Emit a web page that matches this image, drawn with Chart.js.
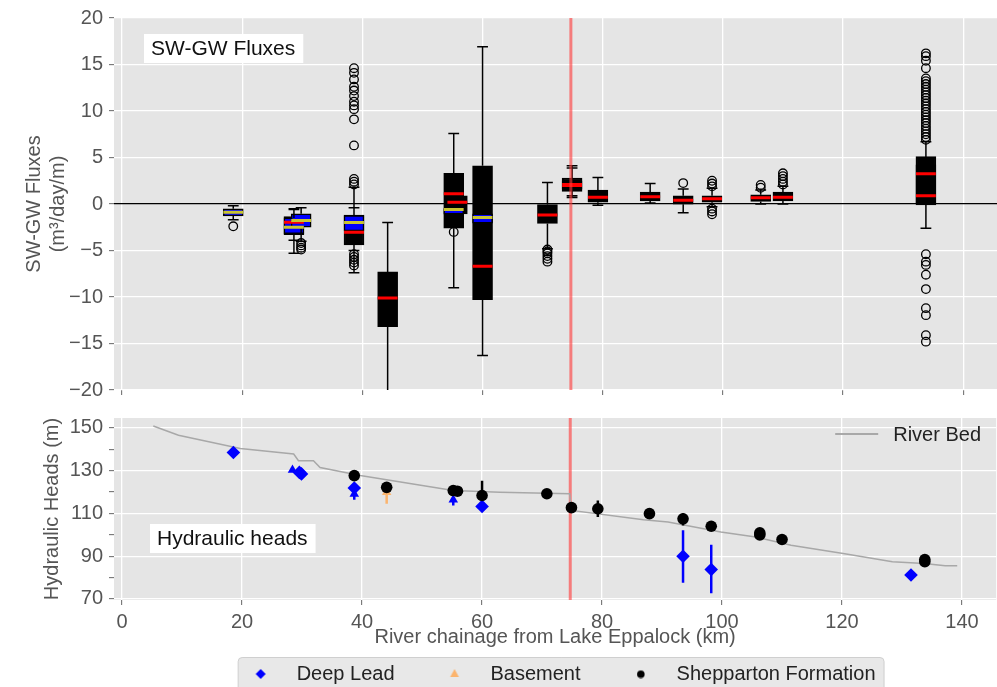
<!DOCTYPE html>
<html>
<head>
<meta charset="utf-8">
<script src="https://cdn.jsdelivr.net/npm/chart.js@4.4.1/dist/chart.umd.min.js"></script>
<style>
  html, body { margin: 0; padding: 0; background: #fff; overflow: hidden; }
  #wrap { position: relative; width: 997px; height: 687px; overflow: hidden; }
  canvas { position: absolute; left: 0; }
  #fluxes { top: 0; }
  #heads { top: 400px; }
</style>
</head>
<body>
<div id="wrap">
  <canvas id="fluxes" width="1003" height="408"></canvas>
  <canvas id="heads" width="1003" height="294"></canvas>
</div>
<script>
const FONT = "'Liberation Sans', Arial, sans-serif";
const TICK_TXT = '#555555';
const PANEL = '#e5e5e5';
const BLUE = '#0000ff';
const ORANGE = '#fbb46e';
const YELLOW = '#c8c430';

// axes
const xMin = -1.35, xMax = 145.7;
const kmTicks = [0, 20, 40, 60, 80, 100, 120, 140];
const fluxTicks = [-20, -15, -10, -5, 0, 5, 10, 15, 20];
const headTicks = [70, 80, 90, 100, 110, 120, 130, 140, 150];
const headLabelled = [70, 90, 110, 130, 150];
const markerKm = 74.7;   // red vertical line

// SW-GW flux boxes, black (q1, q3, median, whiskers)
const boxKm  = [28.6, 38.6, 44.2, 55.2, 55.8, 60.0, 70.8, 74.9, 74.9, 79.2, 87.9, 93.4, 98.2, 106.3, 110.0, 133.8, 133.8];
const boxQ1  = [-3.3, -4.4, -13.2, -2.6, -1.06, -10.3, -2.1, 1.35, 1.6, 0.2, 0.34, -0.02, 0.2, 0.27, 0.34, -0.1, 0.1];
const boxQ3  = [-1.35, -1.2, -7.3, 3.3, 0.88, 4.1, -0.05, 2.8, 2.5, 1.5, 1.27, 0.88, 0.88, 0.99, 1.27, 5.1, 4.2];
const boxMed = [-1.96, -3.04, -10.1, 1.1, 0.2, -6.7, -1.17, 2.0, 2.1, 0.73, 0.78, 0.41, 0.56, 0.67, 0.73, 3.25, 0.88];
const boxLo  = [-5.3, -7.4, -21, -9.0, -1.5, -16.3, -4.8, 0.7, 0.9, -0.13, 0.1, -0.95, -0.3, 0.0, 0.0, -2.6, -2.6];
const boxHi  = [-0.6, 1.8, -2.0, 7.57, 1.3, 16.9, 2.3, 4.1, 3.86, 2.86, 2.2, 1.6, 1.7, 1.5, 1.9, 6.7, 6.7];

// SW-GW flux boxes, blue
const dlKm  = [18.5, 28.6, 29.8, 38.6, 55.2, 60.0];
const dlQ1  = [-1.29, -3.2, -2.5, -2.9, -1.1, -2.07];
const dlQ3  = [-0.52, -1.5, -1.06, -1.25, -0.5, -1.06];
const dlMed = [-0.88, -2.5, -1.78, -2.0, -0.6, -1.46];
const dlLo  = [-1.7, -3.9, -4.0, -5.0, -1.5, -2.6];
const dlHi  = [-0.2, -0.5, -0.4, -0.4, 0.0, -0.6];

// outliers
const outlierKm = [18.5, 29.8, 38.6, 55.2, 70.8, 93.4, 98.2, 106.3, 110.0, 133.8];
const outlierVal = [
  [-2.4],
  [-4.2, -4.45, -4.7, -4.9],
  [2.1, 2.4, 2.7, 6.3, 9.1, 10.2, 10.6, 11.0, 11.6, 12.2, 12.6, 13.4, 14.1, 14.6, -5.4, -5.7, -6.0, -6.3, -6.6],
  [-3.0],
  [-4.9, -5.1, -5.3, -5.6, -5.9, -6.2],
  [2.25],
  [1.9, 2.2, 2.5, -0.5, -0.8, -1.1],
  [1.75, 2.05],
  [2.1, 2.4, 2.7, 3.0, 3.3],
  [6.9, 7.2, 7.5, 7.8, 8.1, 8.4, 8.7, 9.0, 9.3, 9.6, 9.9, 10.2, 10.5, 10.8, 11.1, 11.4, 11.7, 12.0, 12.3, 12.6, 12.9, 13.2, 13.5,
   14.6, 15.4, 15.9, 16.2, -5.4, -6.2, -6.55, -7.6, -9.15, -11.2, -11.95, -14.1, -14.8]
];

// river bed
const bedKm    = [5.2, 9.4, 19.7, 28.6, 29.4, 31.9, 33.0, 39.7, 55.2, 63.0, 74.6, 74.9, 86.9, 91.0, 99.8, 105.6, 111.5, 120.2, 128.4, 133.7, 137.2, 139.2];
const bedLevel = [150.9, 146.6, 140.4, 137.8, 134.7, 134.7, 131.5, 127.7, 120.7, 119.9, 119.2, 111.4, 107.1, 106.0, 101.3, 99.0, 95.1, 91.3, 87.4, 86.6, 85.5, 85.5];

// hydraulic heads
const deepKm   = [18.55, 29.55, 29.9, 38.7, 60.0, 93.5, 98.2, 131.5];
const deepHead = [138.5, 129.2, 128.5, 121.9, 113.3, 90.0, 83.8, 81.2];
const deepTriKm   = [28.4, 38.7, 55.2];
const deepTriHead = [130.3, 119.1, 116.4];
const deepErrKm = [38.7, 55.2, 93.5, 98.2];
const deepErrLo = [116.4, 113.7, 77.6, 72.6];
const deepErrHi = [121.9, 116.4, 102.1, 95.4];

const baseKm = [44.1];
const baseHead = [119.9];
const baseErrLo = [114.5];
const baseErrHi = [124.6];

const shepKm   = [38.7, 44.1, 55.2, 55.9, 60.0, 70.8, 74.9, 79.3, 87.9, 93.5, 98.2, 106.3, 106.3, 110.0, 133.8, 133.8];
const shepHead = [127.7, 122.2, 120.7, 120.4, 118.4, 119.2, 112.7, 112.2, 109.9, 107.5, 104.0, 100.9, 99.9, 97.8, 88.4, 87.4];
const shepErrKm = [60.0, 79.3, 87.9, 93.5];
const shepErrLo = [117.5, 108.3, 108.0, 104.4];
const shepErrHi = [125.3, 116.0, 112.2, 110.1];

const legendOrder = ['Deep Lead', 'Basement', 'Shepparton Formation'];

// ---------- helpers ----------
function vSegs(km, lo, hi) {
  const pts = [];
  km.forEach((x, i) => pts.push({x, y: lo[i]}, {x, y: hi[i]}, {x, y: null}));
  return pts;
}
function hSegs(km, val, half) {
  const pts = [];
  km.forEach((x, i) => pts.push({x: x - half, y: val[i]}, {x: x + half, y: val[i]}, {x, y: null}));
  return pts;
}
function pts(km, vals) {
  return km.map((x, i) => ({x, y: vals[i]}));
}
function segLine(data, color, width, order) {
  return { type: 'line', data, borderColor: color, borderWidth: width, pointRadius: 0,
           spanGaps: false, borderCapStyle: 'butt', order };
}
function marker(style, color, r) {
  const c = document.createElement('canvas');
  c.width = c.height = 2 * r + 2;
  const g = c.getContext('2d');
  const m = r + 1;
  g.fillStyle = color;
  g.beginPath();
  if (style === 'diamond') {
    g.moveTo(m, m - r); g.lineTo(m + r, m); g.lineTo(m, m + r); g.lineTo(m - r, m);
  } else if (style === 'triangle') {
    g.moveTo(m, m - r); g.lineTo(m + r * 0.87, m + r * 0.6); g.lineTo(m - r * 0.87, m + r * 0.6);
  } else {
    g.arc(m, m, r, 0, Math.PI * 2);
  }
  g.closePath();
  g.fill();
  return c;
}

const outlierPts = [];
outlierKm.forEach((x, i) => outlierVal[i].forEach(y => outlierPts.push({x, y})));

// ---------- plugins ----------
const panelBg = {
  id: 'panelBg',
  beforeDraw(chart) {
    const {ctx, chartArea: a} = chart;
    ctx.save();
    ctx.fillStyle = PANEL;
    ctx.fillRect(a.left, a.top, a.width, a.height);
    const boxes = chart.legend && chart.legend.options.display ? chart.legend.legendHitBoxes : null;
    if (boxes && boxes.length) {
      const last = boxes[boxes.length - 1];
      const l = boxes[0].left + 3, r = last.left + last.width + 8, t = boxes[0].top - 7;
      ctx.fillStyle = '#e8e8e8';
      ctx.strokeStyle = '#cfcfcf';
      ctx.lineWidth = 1;
      ctx.beginPath();
      ctx.roundRect(l + 0.5, t + 0.5, r - l, chart.height - t + 5, 4);
      ctx.fill();
      ctx.stroke();
    }
    ctx.restore();
  }
};

const panelText = {
  id: 'panelText',
  afterDatasetsDraw(chart, args, opts) {
    const {ctx, chartArea: a} = chart;
    ctx.save();
    ctx.font = `21px ${FONT}`;
    if (opts.text) {
      const w = ctx.measureText(opts.text).width;
      const x = a.left + opts.dx, y = a.top + opts.dy;
      ctx.fillStyle = '#fff';
      ctx.fillRect(x, y, w + 15, 29);
      ctx.fillStyle = '#111';
      ctx.textBaseline = 'middle';
      ctx.fillText(opts.text, x + 7, y + 15);
    }
    if (opts.key) {
      const y = a.top + 16;
      ctx.strokeStyle = '#a8a8a8';
      ctx.lineWidth = 2;
      ctx.beginPath();
      ctx.moveTo(a.right - 161, y);
      ctx.lineTo(a.right - 118, y);
      ctx.stroke();
      ctx.font = `20px ${FONT}`;
      ctx.fillStyle = '#222';
      ctx.textBaseline = 'middle';
      ctx.fillText(opts.key, a.right - 103, y + 1);
    }
    ctx.restore();
  }
};

Chart.defaults.font.family = FONT;
Chart.defaults.animation = false;

const tickFont = { family: FONT, size: 20 };
const titleFont = { family: FONT, size: 20 };

function kmAxis(showLabels) {
  return {
    type: 'linear', min: xMin, max: xMax, offset: false,
    afterBuildTicks: s => { s.ticks = kmTicks.map(value => ({value})); },
    ticks: { display: showLabels, autoSkip: false, maxRotation: 0, color: TICK_TXT, font: tickFont, padding: 5 },
    grid: { color: '#ffffff', lineWidth: 1.3, offset: false, tickColor: '#666', tickWidth: 1, tickLength: 5 },
    border: { display: false }
  };
}

// ---------- top: SW-GW fluxes ----------
const fluxX = kmAxis(false);
fluxX.afterFit = s => { s.height = 12; };

new Chart(document.getElementById('fluxes'), {
  type: 'bar',
  data: {
    datasets: [
      segLine([{x: markerKm, y: fluxTicks[0]}, {x: markerKm, y: fluxTicks[fluxTicks.length - 1]}],
              'rgba(255, 60, 60, 0.62)', 3, 0),
      { type: 'line', data: outlierPts, showLine: false, pointStyle: 'circle', pointRadius: 4.3,
        pointBackgroundColor: 'rgba(0,0,0,0)', pointBorderColor: '#000', pointBorderWidth: 1.3, order: 1 },
      segLine(hSegs(dlKm, dlMed, 1.65), YELLOW, 3, 2),
      segLine(hSegs(boxKm, boxMed, 1.65), '#ff0000', 3, 3),
      segLine(hSegs([...boxKm, ...boxKm, ...dlKm, ...dlKm], [...boxHi, ...boxLo, ...dlHi, ...dlLo], 0.9), '#000', 1.5, 4),
      segLine(vSegs([...boxKm, ...boxKm, ...dlKm, ...dlKm], [...boxQ3, ...boxQ1, ...dlQ3, ...dlQ1],
                    [...boxHi, ...boxLo, ...dlHi, ...dlLo]), '#000', 1.5, 5),
      { type: 'bar', data: dlKm.map((x, i) => ({x, y: [dlQ1[i], dlQ3[i]]})), stack: 'box',
        backgroundColor: BLUE, borderColor: '#000', borderWidth: 1.5, borderSkipped: false,
        barThickness: 20, order: 6 },
      { type: 'bar', data: boxKm.map((x, i) => ({x, y: [boxQ1[i], boxQ3[i]]})), stack: 'box',
        backgroundColor: '#000', borderColor: '#000', borderWidth: 1.5, borderSkipped: false,
        barThickness: 20, order: 7 }
    ]
  },
  options: {
    responsive: false,
    devicePixelRatio: 1,
    layout: { padding: { top: 17, left: 0, right: 0, bottom: 0 } },
    plugins: {
      legend: { display: false },
      tooltip: { enabled: false },
      panelText: { text: 'SW-GW Fluxes', dx: 30, dy: 16 }
    },
    scales: {
      x: fluxX,
      y: {
        min: fluxTicks[0], max: fluxTicks[fluxTicks.length - 1], stacked: false,
        afterBuildTicks: s => { s.ticks = fluxTicks.map(value => ({value})); },
        ticks: { autoSkip: false, color: TICK_TXT, font: tickFont, padding: 6,
                 callback: v => (v < 0 ? '\u2212' + Math.abs(v) : String(v)) },
        grid: { color: c => (c.tick && c.tick.value === 0 ? '#000' : '#ffffff'), lineWidth: 1.3,
                tickColor: '#666', tickWidth: 1, tickLength: 5 },
        border: { display: false },
        title: { display: true, text: ['SW-GW Fluxes', '(m\u00b3/day/m)'], color: TICK_TXT, font: titleFont,
                 padding: { top: 22, bottom: 0 } },
        afterFit: s => { s.width = 114; }
      }
    }
  },
  plugins: [panelBg, panelText]
});

// ---------- bottom: hydraulic heads ----------
const legendMarks = {
  'Deep Lead': marker('diamond', BLUE, 5),
  'Basement': marker('triangle', ORANGE, 5),
  'Shepparton Formation': marker('circle', '#000', 3.8)
};

const headX = kmAxis(true);
headX.title = { display: true, text: 'River chainage from Lake Eppalock (km)', color: TICK_TXT, font: titleFont,
                padding: { top: 0, bottom: -19 } };
headX.afterFit = s => { s.height = 30; };

new Chart(document.getElementById('heads'), {
  type: 'scatter',
  data: {
    datasets: [
      { label: 'Shepparton Formation', data: pts(shepKm, shepHead), pointStyle: 'circle', pointRadius: 5.8,
        backgroundColor: '#000', borderWidth: 0, order: 1 },
      { label: 'Deep Lead', data: pts(deepKm, deepHead), pointStyle: 'rectRot', pointRadius: 6.8,
        backgroundColor: BLUE, borderWidth: 0, order: 2 },
      { label: 'Basement', data: pts(baseKm, baseHead), pointStyle: 'triangle', pointRadius: 5.5,
        backgroundColor: ORANGE, borderWidth: 0, order: 4 },
      { label: 'Deep Lead (tri)', data: pts(deepTriKm, deepTriHead), pointStyle: 'triangle', pointRadius: 5.5,
        backgroundColor: BLUE, borderWidth: 0, order: 3 },
      Object.assign(segLine(vSegs(shepErrKm, shepErrLo, shepErrHi), '#000', 2.5, 5), { label: 'shep err' }),
      Object.assign(segLine(vSegs(deepErrKm, deepErrLo, deepErrHi), BLUE, 2.5, 6), { label: 'deep err' }),
      Object.assign(segLine(vSegs(baseKm, baseErrLo, baseErrHi), ORANGE, 2.5, 7), { label: 'base err' }),
      Object.assign(segLine(pts(bedKm, bedLevel), '#a8a8a8', 1.5, 8), { label: 'River Bed' }),
      Object.assign(segLine([{x: markerKm, y: 60}, {x: markerKm, y: 160}], 'rgba(255, 60, 60, 0.62)', 3, 9),
                    { label: 'marker' })
    ]
  },
  options: {
    responsive: false,
    devicePixelRatio: 1,
    layout: { padding: { top: 17, left: 0, right: 0, bottom: 0 } },
    plugins: {
      tooltip: { enabled: false },
      panelText: { text: 'Hydraulic heads', dx: 36, dy: 106, key: 'River Bed' },
      legend: {
        position: 'bottom',
        fullSize: false,
        labels: {
          usePointStyle: true,
          pointStyleWidth: 52,
          boxHeight: 8,
          padding: 34,
          color: '#222',
          font: { family: FONT, size: 20 },
          filter: item => legendMarks[item.text] !== undefined,
          sort: (a, b) => legendOrder.indexOf(a.text) - legendOrder.indexOf(b.text),
          generateLabels: chart => Chart.defaults.plugins.legend.labels.generateLabels(chart)
            .map(item => Object.assign(item, { pointStyle: legendMarks[item.text] || item.pointStyle }))
        }
      }
    },
    scales: {
      x: headX,
      y: {
        min: 69.5, max: 154.65,
        afterBuildTicks: s => { s.ticks = headTicks.map(value => ({value})); },
        ticks: { autoSkip: false, color: TICK_TXT, font: tickFont, padding: 6,
                 callback: v => (headLabelled.includes(v) ? String(v) : '') },
        grid: { color: c => (c.tick && headLabelled.includes(c.tick.value) ? '#ffffff' : 'rgba(0,0,0,0)'),
                lineWidth: 1.3, tickColor: '#666', tickWidth: 1, tickLength: 5 },
        border: { display: false },
        title: { display: true, text: 'Hydraulic Heads (m)', color: TICK_TXT, font: titleFont,
                 padding: { top: 40, bottom: 0 } },
        afterFit: s => { s.width = 114; }
      }
    }
  },
  plugins: [panelBg, panelText]
});
</script>
</body>
</html>
